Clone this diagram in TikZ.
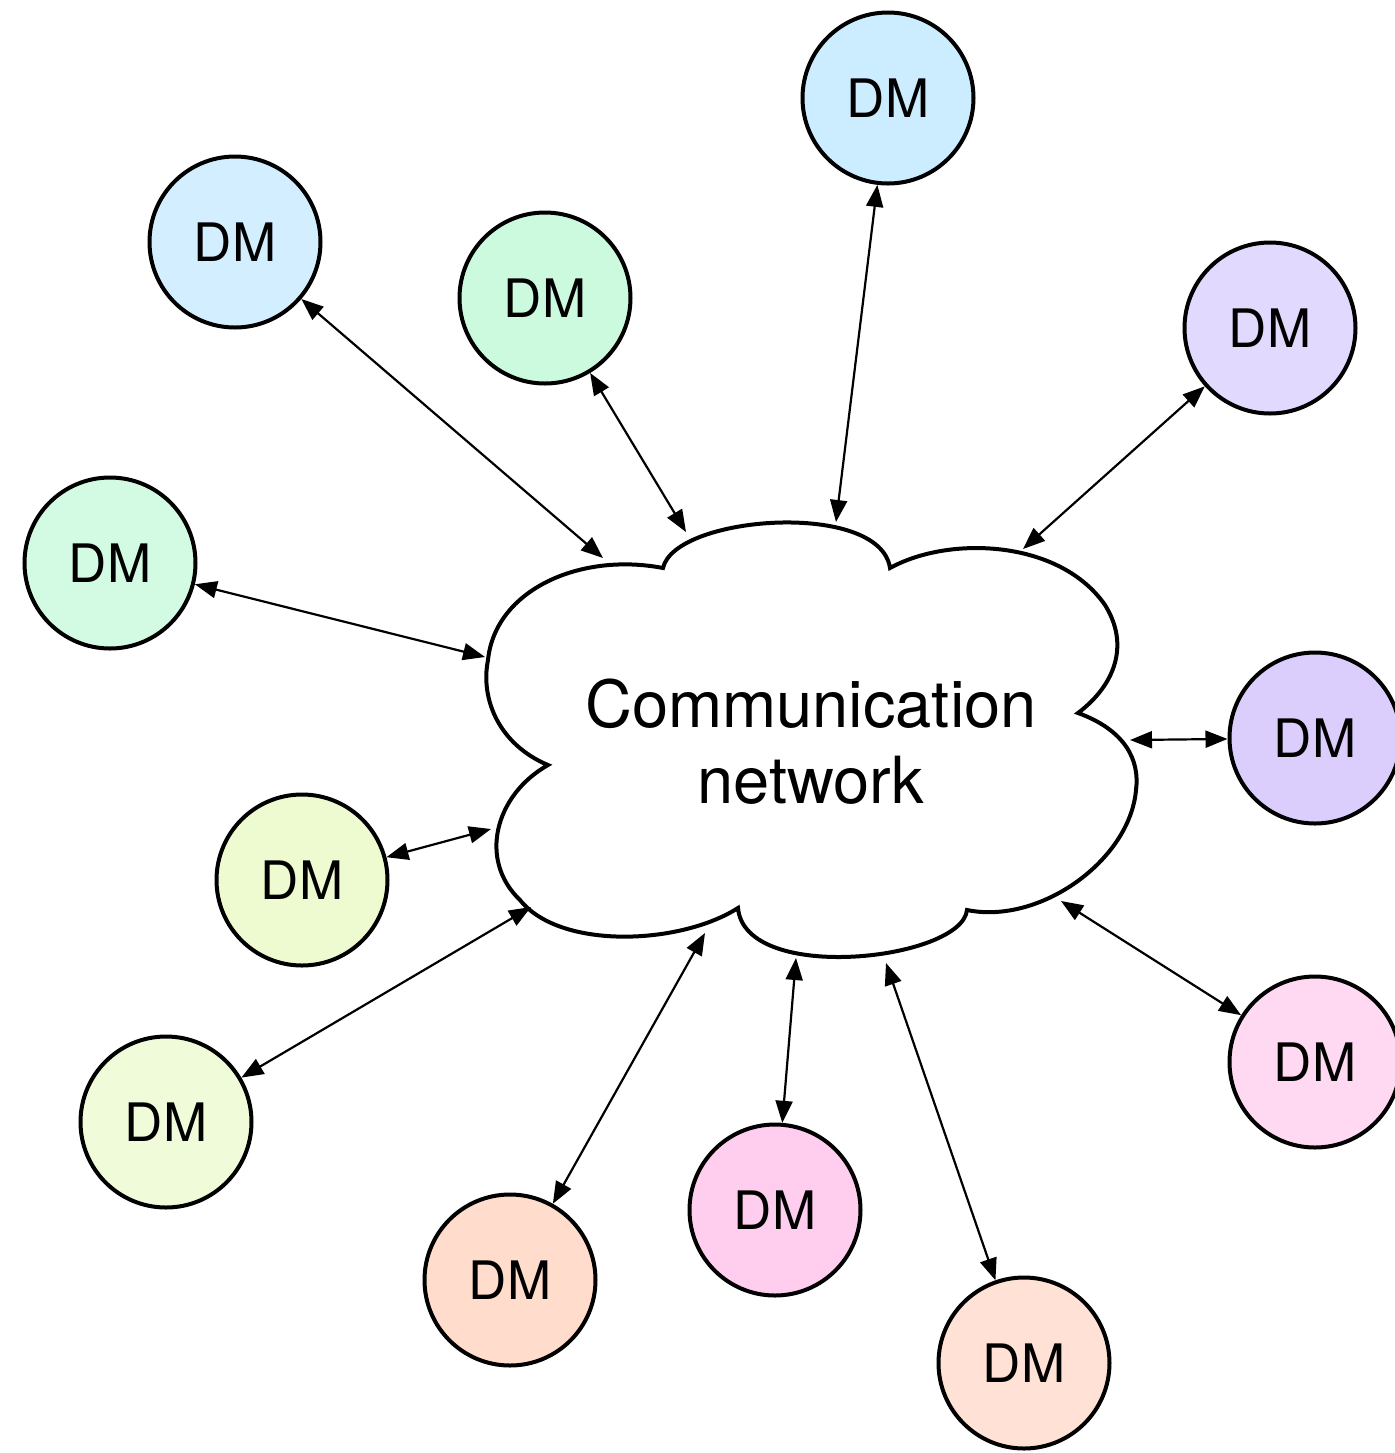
\documentclass[tikz,border=0pt]{standalone}
\usepackage{fontspec}
\setmainfont{TeX Gyre Heros}
\usetikzlibrary{arrows.meta}
\definecolor{cblue}{HTML}{D3EEFE}
\definecolor{cblueb}{HTML}{CCECFF}
\definecolor{cgreen}{HTML}{CCFADF}
\definecolor{cgreenb}{HTML}{D3FBE3}
\definecolor{clav}{HTML}{E2D9FE}
\definecolor{clavb}{HTML}{DBCEFD}
\definecolor{cyel}{HTML}{EEFBD0}
\definecolor{cyelb}{HTML}{F0FBDA}
\definecolor{cpink}{HTML}{FFD9F2}
\definecolor{cpinkb}{HTML}{FFCDEE}
\definecolor{cpeach}{HTML}{FFDCCB}
\definecolor{cpeachb}{HTML}{FFE1D6}
\begin{document}
\begin{tikzpicture}[x=0.5pt,y=-0.5pt,
  dm/.style={circle,draw,line width=2pt,minimum size=85.5pt,inner sep=0pt,font=\fontsize{26.5}{30}\selectfont},
  link/.style={line width=1.1pt,{Triangle[length=11pt,width=8.5pt]}-{Triangle[length=11pt,width=8.5pt]}},
  cloudline/.style={draw,line width=2pt,fill=white,line join=miter}]
\useasboundingbox (0,0) rectangle (1395,1453);
% DM nodes
\node[dm,fill=cblueb]  (d1)  at (888,98)    {DM};
\node[dm,fill=cblue]   (d2)  at (235,242)   {DM};
\node[dm,fill=cgreen]  (d3)  at (545,298)   {DM};
\node[dm,fill=clav]    (d4)  at (1270,328)  {DM};
\node[dm,fill=cgreenb] (d5)  at (110,563)   {DM};
\node[dm,fill=clavb]   (d6)  at (1315,738)  {DM};
\node[dm,fill=cyel]    (d7)  at (302,880)   {DM};
\node[dm,fill=cyelb]   (d8)  at (166,1122)  {DM};
\node[dm,fill=cpeach]  (d9)  at (510,1280)  {DM};
\node[dm,fill=cpinkb]  (d10) at (775,1210)  {DM};
\node[dm,fill=cpeachb] (d11) at (1024,1363) {DM};
\node[dm,fill=cpink]   (d12) at (1315,1062) {DM};
% cloud
\path[cloudline] (663,568)
  .. controls (675,515) and (880,500) .. (890,568)
  .. controls (950,535) and (1060,540) .. (1105,605)
  .. controls (1130,645) and (1115,685) .. (1078,713)
  .. controls (1125,730) and (1140,760) .. (1136,790)
  .. controls (1130,860) and (1040,925) .. (967,910)
  .. controls (962,960) and (745,985) .. (738,908)
  .. controls (680,945) and (560,950) .. (520,900)
  .. controls (478,860) and (495,795) .. (548,765)
  .. controls (500,745) and (480,700) .. (488,660)
  .. controls (495,590) and (580,552) .. cycle;
\node[align=center,font=\fontsize{32.5}{38}\selectfont] (net) at (811,742) {Communication\\network};
% attachment points on the cloud
\coordinate (c1)  at (836,522);
\coordinate (c2)  at (603,558);
\coordinate (c3)  at (686,532);
\coordinate (c4)  at (1023,549);
\coordinate (c5)  at (485,657);
\coordinate (c6)  at (1130,740);
\coordinate (c7)  at (491,829);
\coordinate (c8)  at (531,907);
\coordinate (c9)  at (705,933);
\coordinate (c10) at (796,958);
\coordinate (c11) at (886,963);
\coordinate (c12) at (1061,901);
% links
\draw[link] (d1)  -- (c1);
\draw[link] (d2)  -- (c2);
\draw[link] (d3)  -- (c3);
\draw[link] (d4)  -- (c4);
\draw[link] (d5)  -- (c5);
\draw[link] (d6)  -- (c6);
\draw[link] (d7)  -- (c7);
\draw[link] (d8)  -- (c8);
\draw[link] (d9)  -- (c9);
\draw[link] (d10) -- (c10);
\draw[link] (d11) -- (c11);
\draw[link] (d12) -- (c12);
\end{tikzpicture}
\end{document}
